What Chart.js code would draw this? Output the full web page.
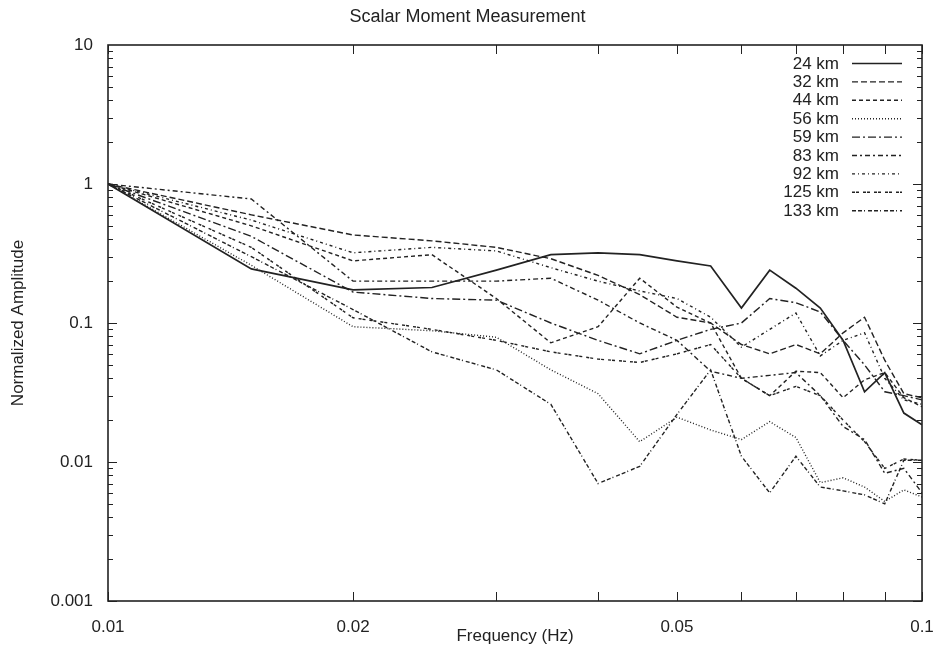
<!DOCTYPE html>
<html>
<head>
<meta charset="utf-8">
<script src="https://cdn.jsdelivr.net/npm/chart.js@4/dist/chart.umd.min.js"></script>
<style>
  body { margin: 0; background: #fff; }
  canvas { display: block; }
</style>
</head>
<body>
<canvas id="myChart" width="935" height="659"></canvas>
<script>
// frequencies (Hz), sampled every 0.005 Hz
const freqs = [0.010, 0.015, 0.020, 0.025, 0.030, 0.035, 0.040, 0.045, 0.050, 0.055,
               0.060, 0.065, 0.070, 0.075, 0.080, 0.085, 0.090, 0.095, 0.100];

const labels = ['24 km', '32 km', '44 km', '56 km', '59 km', '83 km', '92 km', '125 km', '133 km'];

const amp24  = [1, 0.245, 0.173, 0.18, 0.24, 0.31, 0.32, 0.31, 0.28, 0.257, 0.128, 0.24, 0.178, 0.128, 0.075, 0.032, 0.044, 0.0225, 0.0185];
const amp32  = [1, 0.6, 0.43, 0.39, 0.35, 0.29, 0.22, 0.16, 0.11, 0.1, 0.07, 0.06, 0.07, 0.06, 0.085, 0.11, 0.054, 0.031, 0.029];
const amp44  = [1, 0.5, 0.28, 0.31, 0.15, 0.072, 0.094, 0.21, 0.13, 0.1, 0.04, 0.03, 0.045, 0.044, 0.029, 0.039, 0.044, 0.029, 0.025];
const amp56  = [1, 0.26, 0.094, 0.088, 0.079, 0.046, 0.031, 0.014, 0.021, 0.017, 0.0145, 0.0195, 0.015, 0.0071, 0.0077, 0.0066, 0.0052, 0.0063, 0.0056];
const amp59  = [1, 0.42, 0.167, 0.15, 0.146, 0.1, 0.075, 0.06, 0.075, 0.09, 0.1, 0.15, 0.14, 0.12, 0.075, 0.05, 0.032, 0.03, 0.028];
const amp83  = [1, 0.78, 0.2, 0.2, 0.2, 0.21, 0.146, 0.1, 0.075, 0.045, 0.04, 0.042, 0.044, 0.03, 0.018, 0.0145, 0.0083, 0.009, 0.006];
const amp92  = [1, 0.55, 0.32, 0.35, 0.33, 0.25, 0.2, 0.17, 0.15, 0.11, 0.067, 0.09, 0.118, 0.058, 0.075, 0.085, 0.04, 0.028, 0.026];
const amp125 = [1, 0.35, 0.109, 0.09, 0.075, 0.062, 0.055, 0.052, 0.06, 0.07, 0.04, 0.03, 0.035, 0.03, 0.02, 0.014, 0.009, 0.0105, 0.0103];
const amp133 = [1, 0.3, 0.125, 0.062, 0.046, 0.026, 0.007, 0.0093, 0.022, 0.046, 0.011, 0.006, 0.011, 0.0066, 0.0062, 0.0058, 0.005, 0.0103, 0.0103];

const series = [amp24, amp32, amp44, amp56, amp59, amp83, amp92, amp125, amp133];

// tick values
const xTickLabels = [0.01, 0.02, 0.05, 0.1];
const xMinorTicks = [0.03, 0.04, 0.06, 0.07, 0.08, 0.09];
const yTickLabels = [0.001, 0.01, 0.1, 1, 10];

const dashes = [[], [6, 3], [4, 3], [1, 2], [8, 3, 2, 3], [5, 3, 2, 3], [3, 3, 1, 3], [3, 1, 3, 4], [4, 2, 4, 2, 1, 3]];
const ink = '#222';
const fontFamily = '"Liberation Sans", Arial, sans-serif';

// ticks inside the frame + the frame + legend, like gnuplot
const framePlugin = {
  id: 'frame',
  afterDraw(chart) {
    const ctx = chart.ctx;
    const a = chart.chartArea;
    const xs = chart.scales.x, ys = chart.scales.y;
    ctx.save();
    ctx.strokeStyle = ink;
    ctx.lineWidth = 1;
    ctx.beginPath();
    xTickLabels.concat(xMinorTicks).forEach(v => {
      const px = Math.round(xs.getPixelForValue(v)) + 0.5;
      ctx.moveTo(px, a.bottom); ctx.lineTo(px, a.bottom - 9);
      ctx.moveTo(px, a.top); ctx.lineTo(px, a.top + 9);
    });
    for (let d = 0.001; d < 10; d *= 10) {
      for (let m = 1; m <= 9; m++) {
        const py = Math.round(ys.getPixelForValue(d * m)) + 0.5;
        const len = m === 1 ? 9 : 5;
        ctx.moveTo(a.left, py); ctx.lineTo(a.left + len, py);
        ctx.moveTo(a.right, py); ctx.lineTo(a.right - len, py);
      }
    }
    ctx.stroke();
    ctx.lineWidth = 1.6;
    ctx.strokeRect(a.left, a.top, a.right - a.left, a.bottom - a.top);

    // legend
    ctx.font = '17px ' + fontFamily;
    ctx.fillStyle = ink;
    ctx.textAlign = 'right';
    ctx.textBaseline = 'middle';
    chart.data.datasets.forEach((ds, i) => {
      const y = a.top + 18 + i * 18.4;
      ctx.fillText(ds.label, a.right - 83, y + 1);
      ctx.beginPath();
      ctx.setLineDash(ds.borderDash || []);
      ctx.lineWidth = ds.borderWidth;
      ctx.moveTo(a.right - 70, y + 0.5);
      ctx.lineTo(a.right - 20, y + 0.5);
      ctx.stroke();
    });
    ctx.restore();
  }
};

const ctx = document.getElementById('myChart').getContext('2d');
new Chart(ctx, {
  type: 'line',
  data: {
    datasets: series.map((vals, i) => ({
      label: labels[i],
      data: freqs.map((f, j) => ({ x: f, y: vals[j] })),
      borderColor: ink,
      borderWidth: i === 0 ? 1.7 : 1.4,
      borderDash: dashes[i],
      pointRadius: 0,
      tension: 0,
      fill: false
    }))
  },
  options: {
    responsive: false,
    animation: false,
    devicePixelRatio: 1,
    layout: { padding: 0 },
    plugins: {
      legend: { display: false },
      tooltip: { enabled: false },
      title: {
        display: true,
        text: 'Scalar Moment Measurement',
        color: ink,
        font: { family: fontFamily, size: 18, weight: 'normal' },
        padding: { top: 6, bottom: 17.4 }
      }
    },
    scales: {
      x: {
        type: 'logarithmic',
        min: 0.01,
        max: 0.1,
        grid: { display: false },
        border: { display: false },
        afterBuildTicks(scale) { scale.ticks = xTickLabels.map(v => ({ value: v })); },
        afterFit(scale) {
          scale.height = 58;
          scale.paddingLeft = 0;
          scale.paddingRight = 13;
        },
        ticks: {
          color: ink,
          font: { family: fontFamily, size: 17 },
          padding: 8,
          autoSkip: false,
          maxRotation: 0,
          callback: v => String(v)
        },
        title: {
          display: true,
          text: 'Frequency (Hz)',
          color: ink,
          font: { family: fontFamily, size: 17 },
          padding: { top: 0, bottom: 12 }
        }
      },
      y: {
        type: 'logarithmic',
        min: 0.001,
        max: 10,
        grid: { display: false },
        border: { display: false },
        afterBuildTicks(scale) { scale.ticks = yTickLabels.map(v => ({ value: v })); },
        afterFit(scale) { scale.width = 108; },
        ticks: {
          color: ink,
          font: { family: fontFamily, size: 17 },
          padding: 7,
          autoSkip: false,
          callback: v => String(v)
        },
        title: {
          display: true,
          text: 'Normalized Amplitude',
          color: ink,
          font: { family: fontFamily, size: 17 },
          padding: { top: 8, bottom: 0 }
        }
      }
    }
  },
  plugins: [framePlugin]
});
</script>
</body>
</html>
